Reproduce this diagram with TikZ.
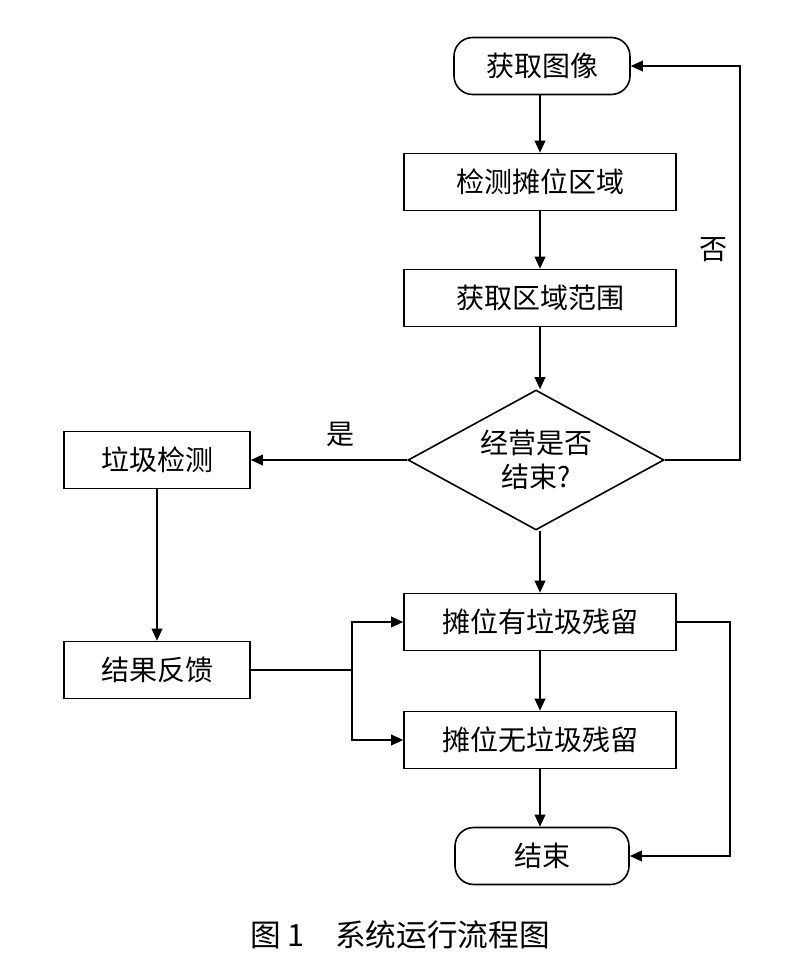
\documentclass[tikz,border=0pt]{standalone}
\usepackage{fontspec}
\newfontfamily\cjk{Noto Sans CJK SC}
\usetikzlibrary{shapes.geometric,arrows.meta}
\begin{document}
\begin{tikzpicture}[x=0.75pt,y=-0.75pt,
  every node/.style={font=\cjk\fontsize{21}{26}\selectfont},
  box/.style={draw,line width=1.2pt,minimum width=272*0.75pt,minimum height=57*0.75pt,inner sep=0pt},
  sbox/.style={box,minimum width=186*0.75pt},
  rbox/.style={box,rounded corners=14pt,minimum width=176*0.75pt},
  arr/.style={line width=1.2pt,-{Triangle[length=9pt,width=8pt]}},
  ln/.style={line width=1.2pt}]
\useasboundingbox (0,0) rectangle (784,969);
\node[rbox] (a) at (542,66) {获取图像};
\node[box] (b) at (540,182) {检测摊位区域};
\node[box] (c) at (540,298) {获取区域范围};
\node[diamond,draw,line width=1.2pt,aspect=1.83,minimum width=256*0.75pt,minimum height=140*0.75pt,inner sep=0pt,align=center] (d) at (536,460) {经营是否\\结束?};
\node[sbox] (g) at (157,460) {垃圾检测};
\node[sbox] (f) at (157,670) {结果反馈};
\node[box] (y) at (540,622) {摊位有垃圾残留};
\node[box] (n) at (540,740) {摊位无垃圾残留};
\node[rbox,minimum width=174*0.75pt] (e) at (542,856) {结束};
\node (no) at (713,250) {否};
\node (yes) at (340,434) {是};
\node[font=\cjk\fontsize{23}{28}\selectfont] (cap) at (400,935) {图 1\quad 系统运行流程图};
\coordinate (r1) at (740,460); \coordinate (r2) at (740,66);
\coordinate (s1) at (730,622); \coordinate (s2) at (730,856);
\coordinate (j) at (352,670); \coordinate (ju) at (352,622); \coordinate (jd) at (352,740);
\draw[arr] (a.south -| b) -- (b);
\draw[arr] (b) -- (c);
\draw[arr] (c) -- (c |- d.north);
\draw[arr] (c |- d.south) -- (y);
\draw[arr] (y) -- (n);
\draw[arr] (n) -- (n |- e.north);
\draw[arr] (d.east) -- (r1) -- (r2) -- (a.east);
\draw[arr] (d.west) -- (g.east);
\draw[arr] (g) -- (f);
\draw[arr] (y.east) -- (s1) -- (s2) -- (e.east);
\draw[ln] (f.east) -- (j);
\draw[arr] (j) -- (ju) -- (y.west);
\draw[arr] (j) -- (jd) -- (n.west);
\end{tikzpicture}
\end{document}
